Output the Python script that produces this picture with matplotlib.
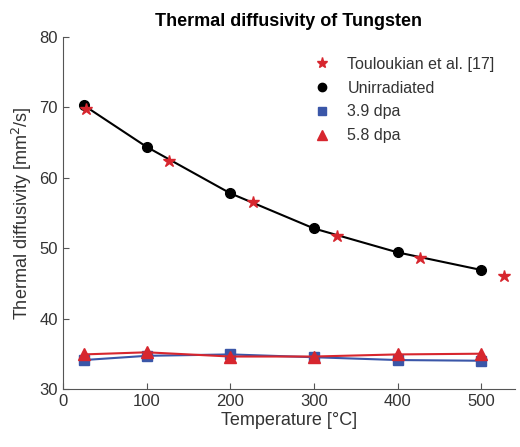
import matplotlib
matplotlib.use("Agg")
import matplotlib.pyplot as plt
from matplotlib.lines import Line2D

plt.rcParams['font.family'] = ['Liberation Sans', 'DejaVu Sans']

# Data
temp_unirr = [25, 100, 200, 300, 400, 500]
unirradiated = [70.3, 64.4, 57.8, 52.8, 49.4, 46.9]
temp_touloukian = [27, 127, 227, 327, 427, 527]
touloukian = [69.8, 62.4, 56.5, 51.7, 48.6, 46.1]
dpa39 = [34.1, 34.7, 34.9, 34.5, 34.1, 34.0]
dpa58 = [34.9, 35.2, 34.6, 34.6, 34.9, 35.0]

xticks = [0, 100, 200, 300, 400, 500]
yticks = [30, 40, 50, 60, 70, 80]

red = '#d7262e'
blue = '#3a56a8'
txt = '#333333'

fig = plt.figure(figsize=(5.2, 4.47), dpi=100)
ax = fig.add_axes([0.121, 0.130, 0.869, 0.787])

ax.plot(temp_unirr, dpa39, color=blue, lw=1.5, marker='s', ms=7, zorder=3)
ax.plot(temp_unirr, dpa58, color=red, lw=1.5, marker='^', ms=8, zorder=4)
ax.plot(temp_unirr, unirradiated, color='black', lw=1.5, marker='o', ms=7, zorder=3)
ax.plot(temp_touloukian, touloukian, ls='none', color=red, marker='*', ms=9, zorder=5)

ax.set_xlim(0, 540)
ax.set_ylim(30, 80)
ax.set_xticks(xticks)
ax.set_yticks(yticks)
for s in ['top', 'right']:
    ax.spines[s].set_visible(False)
for s in ['left', 'bottom']:
    ax.spines[s].set_color('#555555')
    ax.spines[s].set_linewidth(0.8)
ax.tick_params(direction='in', length=4, color='#555555', labelsize=12, labelcolor=txt)

ax.set_xlabel('Temperature [°C]', fontsize=13, color=txt, labelpad=2)
ax.set_ylabel('Thermal diffusivity [mm$^{2}$/s]', fontsize=13, color=txt, labelpad=4)
ax.set_title('Thermal diffusivity of Tungsten', fontsize=13, fontweight='bold', color='black', pad=8)

handles = [
    Line2D([], [], ls='none', color=red, marker='*', ms=8),
    Line2D([], [], ls='none', color='black', marker='o', ms=6),
    Line2D([], [], ls='none', color=blue, marker='s', ms=6),
    Line2D([], [], ls='none', color=red, marker='^', ms=7),
]
labels = ['Touloukian et al. [17]', 'Unirradiated', '3.9 dpa', '5.8 dpa']
ax.legend(handles, labels, loc='upper left', bbox_to_anchor=(0.555, 0.944),
          frameon=False, fontsize=11.5, labelcolor=txt, borderaxespad=0, borderpad=0,
          handletextpad=1.1, labelspacing=0.55, handlelength=1.0)

fig.savefig('out.png', dpi=100)
